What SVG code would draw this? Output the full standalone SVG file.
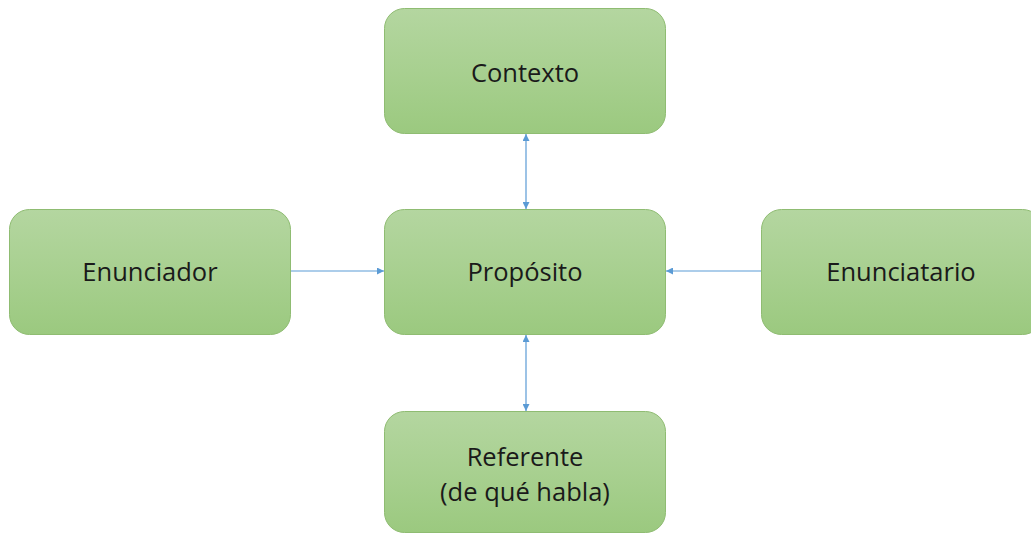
<svg xmlns="http://www.w3.org/2000/svg" width="1031" height="534" viewBox="0 0 1031 534">
<defs>
<linearGradient id="g" x1="0" y1="0" x2="0" y2="1">
<stop offset="0" stop-color="#b4d6a0"/>
<stop offset="0.5" stop-color="#a8d090"/>
<stop offset="1" stop-color="#9bc97f"/>
</linearGradient>
<marker id="ah" viewBox="0 0 10 10" refX="10" refY="5" markerWidth="7" markerHeight="7" orient="auto-start-reverse" markerUnits="userSpaceOnUse">
<path d="M0,0 L10,5 L0,10 z" fill="#5b9bd5"/>
</marker>
<style>
.box{fill:url(#g);stroke:#8fbc72;stroke-width:1}
.lbl{font-family:"Open Sans","Liberation Sans",sans-serif;font-size:25.5px;fill:#1a1a1a;text-anchor:middle}
.c{stroke:#5b9bd5;stroke-width:1.2;fill:none}
</style>
</defs>
<rect width="1031" height="534" fill="#ffffff"/>
<g id="connectors">
<line class="c" x1="526" y1="134" x2="526" y2="209" marker-start="url(#ah)" marker-end="url(#ah)"/>
<line class="c" x1="526" y1="335" x2="526" y2="411" marker-start="url(#ah)" marker-end="url(#ah)"/>
<line class="c" x1="290" y1="271" x2="384" y2="271" marker-end="url(#ah)"/>
<line class="c" x1="761" y1="271" x2="666" y2="271" marker-end="url(#ah)"/>
</g>
<g id="contexto">
<rect class="box" x="384.5" y="8.5" width="281" height="125" rx="20"/>
<text class="lbl" x="525" y="82">Contexto</text>
</g>
<g id="proposito">
<rect class="box" x="384.5" y="209.5" width="281" height="125" rx="20"/>
<text class="lbl" x="525" y="281">Propósito</text>
</g>
<g id="enunciador">
<rect class="box" x="9.5" y="209.5" width="281" height="125" rx="20"/>
<text class="lbl" x="150" y="281">Enunciador</text>
</g>
<g id="enunciatario">
<rect class="box" x="761.5" y="209.5" width="281" height="125" rx="20"/>
<text class="lbl" x="901" y="281">Enunciatario</text>
</g>
<g id="referente">
<rect class="box" x="384.5" y="411.5" width="281" height="121" rx="20"/>
<text class="lbl" x="525" y="466">Referente</text>
<text class="lbl" x="525" y="501">(de qué habla)</text>
</g>
</svg>
